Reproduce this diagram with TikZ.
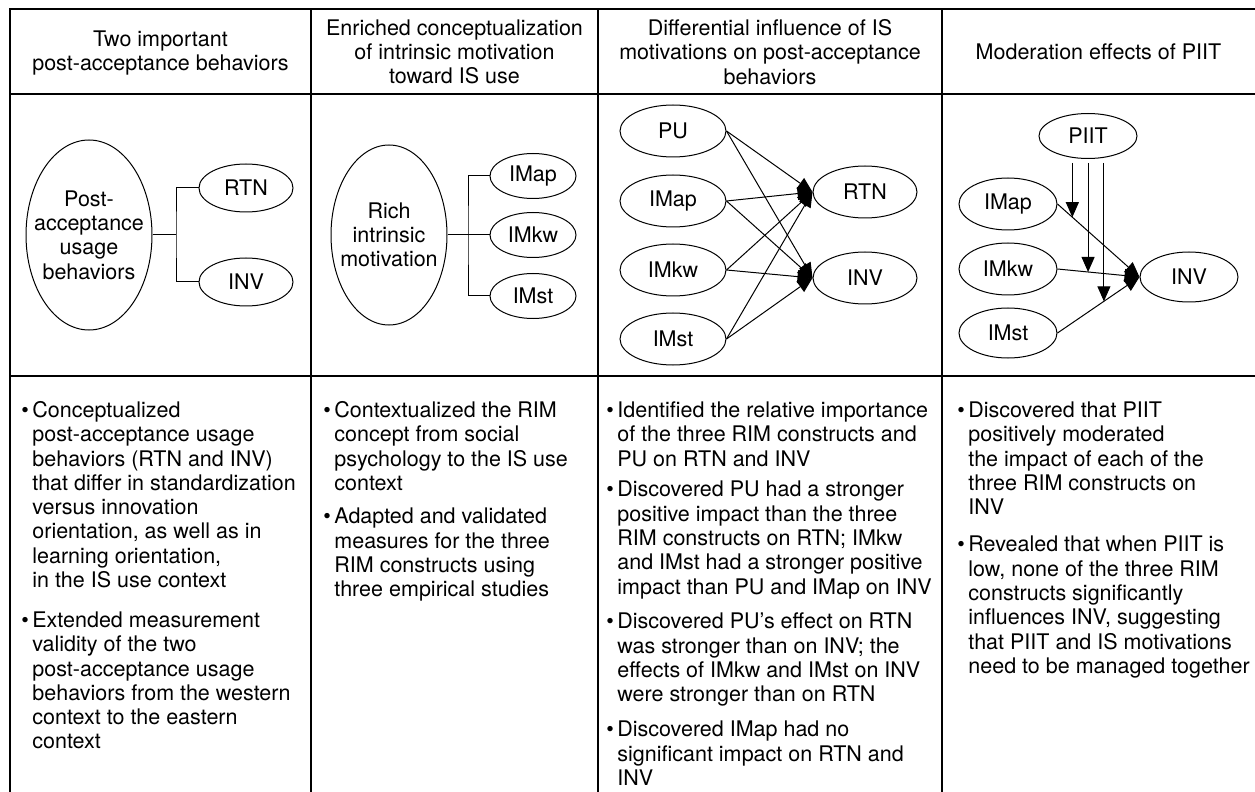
\documentclass[tikz,border=0pt]{standalone}
\usepackage{fontspec}
\setmainfont{TeX Gyre Heros}
\usetikzlibrary{shapes.geometric,arrows.meta}
\begin{document}
\begin{tikzpicture}[x=0.5pt,y=-0.5pt,
  font=\fontsize{10.75}{12.15}\selectfont,
  tbl/.style={line width=1pt, line join=miter},
  hdr/.style={inner sep=0pt, align=center},
  body/.style={inner sep=0pt, align=left, anchor=north west},
  ell/.style 2 args={draw, ellipse, inner sep=0pt, line width=0.5pt, minimum width=#1pt, minimum height=#2pt},
  lnk/.style={line width=0.5pt},
  arr/.style={line width=0.5pt, -{Triangle[length=7.5pt,width=6.5pt]}}]
\useasboundingbox (0,0) rectangle (1255,792);
% table
\draw[tbl] (10,792) -- (10,9) -- (1255,9);
\draw[tbl] (10,94) -- (1255,94);
\draw[tbl] (10,376) -- (1255,376);
\draw[tbl] (311,9) -- (311,792);
\draw[tbl] (598,9) -- (598,792);
\draw[tbl] (942,9) -- (942,792);
% headers
\node[hdr] (h1) at (160.5,53) {Two important\\post-acceptance behaviors};
\node[hdr] (h2) at (454.5,52) {Enriched conceptualization\\of intrinsic motivation\\toward IS use};
\node[hdr] (h3) at (770,52) {Differential influence of IS\\motivations on post-acceptance\\behaviors};
\node[hdr] (h4) at (1098.5,52) {Moderation effects of PIIT};
% column 1 diagram
\node[ell={63}{95}, label={[inner sep=0pt,align=center]center:{Post-\\acceptance\\usage\\behaviors}}] (pab) at (89,235) {};
\node[ell={47}{24}] (rtn1) at (246,188) {RTN};
\node[ell={47}{24}] (inv1) at (246,282) {INV};
\coordinate (j1) at (176,235);
\draw[lnk] (rtn1.west) -| (j1) |- (inv1.west);
\draw[lnk] (pab.east) -- (j1);
% column 2 diagram
\node[ell={58}{90}, label={[inner sep=0pt,align=center]center:{Rich\\intrinsic\\motivation}}] (rim) at (389,235) {};
\node[ell={43}{22.5}] (imap2) at (533,176) {IMap};
\node[ell={43}{22.5}] (imkw2) at (533,235) {IMkw};
\node[ell={43}{22.5}] (imst2) at (533,296) {IMst};
\coordinate (j2) at (468,235);
\draw[lnk] (imap2.west) -| (j2) |- (imst2.west);
\draw[lnk] (rim.east) -- (imkw2.west);
% column 3 diagram
\node[ell={53}{26}] (pu3) at (673,131) {PU};
\node[ell={53}{26}] (imap3) at (673,201) {IMap};
\node[ell={53}{26}] (imkw3) at (673,270) {IMkw};
\node[ell={53}{26}] (imst3) at (673,339) {IMst};
\node[ell={52}{26}] (rtn3) at (865,192) {RTN};
\node[ell={52}{26}] (inv3) at (865,278) {INV};
\foreach \s in {pu3,imap3,imkw3,imst3}{
  \foreach \t in {rtn3,inv3}{
    \draw[arr] (\s.east) -- (\t.west);
  }
}
% column 4 diagram
\node[ell={49}{22.5}] (piit) at (1088,136) {PIIT};
\node[ell={49}{26}] (imap4) at (1008,204) {IMap};
\node[ell={49}{26}] (imkw4) at (1008,269) {IMkw};
\node[ell={49}{25}] (imst4) at (1008,333) {IMst};
\node[ell={49}{25}] (inv4) at (1189,277) {INV};
\draw[arr] (imap4.east) -- coordinate[pos=0.181] (m1) (inv4.west);
\draw[arr] (imkw4.east) -- coordinate[pos=0.373] (m2) (inv4.west);
\draw[arr] (imst4.east) -- coordinate[pos=0.566] (m3) (inv4.west);
\draw[arr] ([yshift=-2pt]piit.south -| m1) -- (m1);
\draw[arr] ([yshift=-2pt]piit.south -| m2) -- (m2);
\draw[arr] ([yshift=-2pt]piit.south -| m3) -- (m3);
% column 1 text
\node[body] (t1a) at (32,400) {\strut\llap{\textbullet\hspace{1.8pt}}Conceptualized\\post-acceptance usage\\behaviors (RTN and INV)\\that differ in standardization\\versus innovation\\orientation, as well as in\\learning orientation,\\in the IS use context};
\node[body] (t1b) at (32,610) {\strut\llap{\textbullet\hspace{1.8pt}}Extended measurement\\validity of the two\\post-acceptance usage\\behaviors from the western\\context to the eastern\\context};
% column 2 text
\node[body] (t2a) at (334,400) {\strut\llap{\textbullet\hspace{1.8pt}}Contextualized the RIM\\concept from social\\psychology to the IS use\\context};
\node[body] (t2b) at (334,506.4) {\strut\llap{\textbullet\hspace{1.8pt}}Adapted and validated\\measures for the three\\RIM constructs using\\three empirical studies};
% column 3 text
\node[body] (t3a) at (617,400) {\strut\llap{\textbullet\hspace{1.8pt}}Identified the relative importance\\of the three RIM constructs and\\PU on RTN and INV};
\node[body] (t3b) at (617,479.5) {\strut\llap{\textbullet\hspace{1.8pt}}Discovered PU had a stronger\\positive impact than the three\\RIM constructs on RTN; IMkw\\and IMst had a stronger positive\\impact than PU and IMap on INV};
\node[body] (t3c) at (617,611.4) {\strut\llap{\textbullet\hspace{1.8pt}}Discovered PU’s effect on RTN\\was stronger than on INV; the\\effects of IMkw and IMst on INV\\were stronger than on RTN};
\node[body] (t3d) at (617,719.5) {\strut\llap{\textbullet\hspace{1.8pt}}Discovered IMap had no\\significant impact on RTN and\\INV};
% column 4 text
\node[body] (t4a) at (968,400) {\strut\llap{\textbullet\hspace{1.8pt}}Discovered that PIIT\\positively moderated\\the impact of each of the\\three RIM constructs on\\INV};
\node[body] (t4b) at (968,534.5) {\strut\llap{\textbullet\hspace{1.8pt}}Revealed that when PIIT is\\low, none of the three RIM\\constructs significantly\\influences INV, suggesting\\that PIIT and IS motivations\\need to be managed together};
\end{tikzpicture}
\end{document}
